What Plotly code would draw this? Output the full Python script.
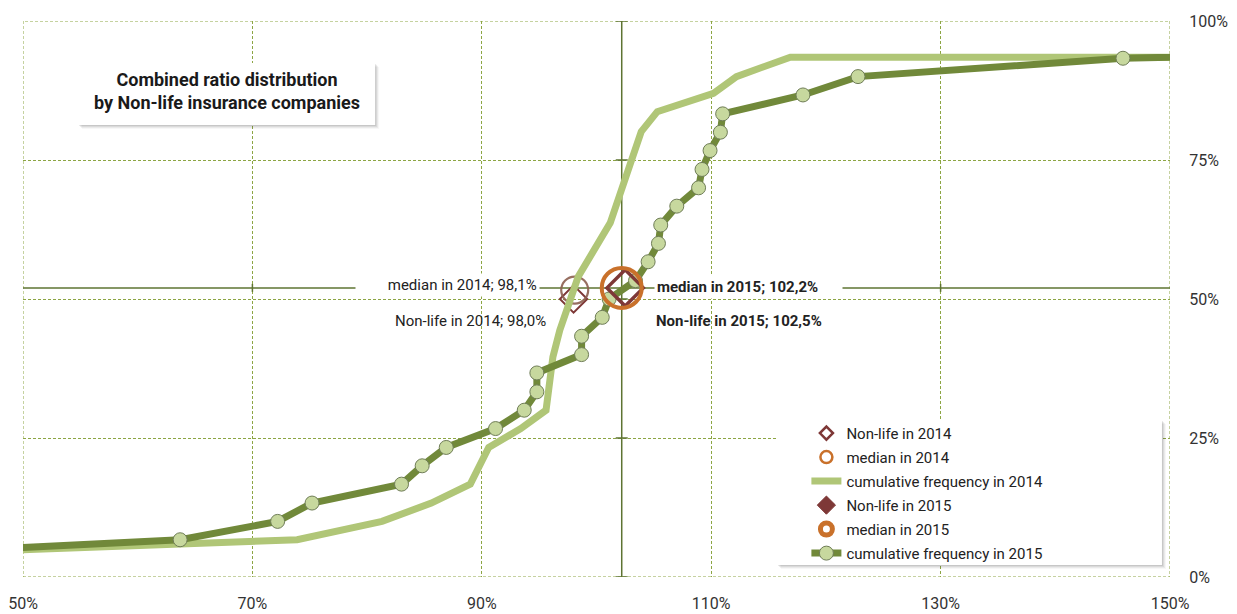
import plotly.graph_objects as go

# ---------------- data ----------------
x_ticks = [50, 70, 90, 110, 130, 150]
x_tick_labels = ["50%", "70%", "90%", "110%", "130%", "150%"]
y_ticks = [0, 25, 50, 75, 100]
y_tick_labels = ["0%", "25%", "50%", "75%", "100%"]

# cumulative frequency 2014 (combined ratio %, cumulative share %)
cum2014_x = [30, 73.9, 81.3, 85.6, 89.0, 90.6, 93.4, 95.6, 96.2, 96.8, 98.4,
             101.2, 103.9, 105.3, 110.2, 112.2, 116.9, 150]
cum2014_y = [3.4, 6.7, 10.0, 13.3, 16.7, 23.3, 26.7, 30.0, 39.6, 44.4, 54.0,
             63.7, 80.1, 83.7, 87.0, 90.0, 93.5, 93.5]

# cumulative frequency 2015
cum2015_x = [30, 63.7, 72.2, 75.2, 83.0, 84.8, 86.9, 91.2, 93.7, 94.8, 94.8,
             98.7, 98.7, 100.5, 101.1, 103.4, 104.5, 105.4, 105.6, 107.0, 108.9,
             109.2, 109.9, 110.8, 111.0, 118.0, 122.8, 145.9, 220]
cum2015_y = [3.3, 6.7, 10.0, 13.3, 16.7, 20.0, 23.3, 26.7, 30.0, 33.3, 36.7,
             40.0, 43.3, 46.7, 50.0, 53.3, 56.7, 60.0, 63.3, 66.7, 70.0,
             73.3, 76.7, 80.0, 83.3, 86.7, 90.0, 93.3, 96.7]

nonlife2014 = 98.0
nonlife2014_y = 50.0
median2014 = 98.1
median2014_y = 51.6
nonlife2015 = 102.5
nonlife2015_y = 52.0
median2015 = 102.2
median2015_y = 52.0

NB = "&nbsp;"
label_median2014 = NB * 8 + "median in 2014; 98,1%"
label_nonlife2014 = "Non-life in 2014; 98,0%"
label_median2015 = "<b>median in 2015; 102,2%</b>" + NB * 6
label_nonlife2015 = "<b>Non-life in 2015; 102,5%</b>"
title_text = "<b>Combined ratio distribution<br>by Non-life insurance companies</b>"

# ---------------- styles ----------------
FONT = "Roboto, Arial, sans-serif"
DARK_GREEN = "#71893A"
LIGHT_GREEN = "#B0C677"
MARKER_FILL = "#C7D89E"
GRID = "#8CA543"
GRID_DASH = "3px,2px"
CROSS = "#5E7432"
BROWN = "#7E3837"
ORANGE = "#C9712B"
MAUVE = "rgba(140,95,80,0.9)"
CLEAR = "rgba(0,0,0,0)"

fig = go.Figure()

# plotted marks (legend shown through proxies below)
fig.add_trace(go.Scatter(
    x=[nonlife2014], y=[nonlife2014_y], mode="markers", showlegend=False,
    marker=dict(symbol="diamond", size=21, color=CLEAR, line=dict(color=BROWN, width=2)),
))
fig.add_trace(go.Scatter(
    x=[median2014], y=[median2014_y], mode="markers", showlegend=False,
    marker=dict(symbol="circle", size=27, color=CLEAR, line=dict(color=MAUVE, width=2.2)),
))
fig.add_trace(go.Scatter(
    x=cum2014_x, y=cum2014_y, mode="lines", name="cumulative frequency in 2014",
    legendgroup="c", legendrank=3,
    line=dict(color=LIGHT_GREEN, width=7),
))
fig.add_trace(go.Scatter(
    x=cum2015_x, y=cum2015_y, mode="lines+markers", name="cumulative frequency in 2015",
    legendgroup="f", legendrank=6,
    line=dict(color=DARK_GREEN, width=7),
    marker=dict(symbol="circle", size=14, color=MARKER_FILL,
                line=dict(color="#6F7D57", width=1)),
))
fig.add_trace(go.Scatter(
    x=[nonlife2015], y=[nonlife2015_y], mode="markers", showlegend=False,
    marker=dict(symbol="diamond", size=28, color=CLEAR, line=dict(color=BROWN, width=3.5)),
))
fig.add_trace(go.Scatter(
    x=[median2015], y=[median2015_y], mode="markers", showlegend=False,
    marker=dict(symbol="circle", size=40, color=CLEAR, line=dict(color=ORANGE, width=4)),
))

# legend proxies for the single markers
fig.add_trace(go.Scatter(
    x=[None], y=[None], mode="markers", name="Non-life in 2014",
    legendgroup="a", legendrank=1,
    marker=dict(symbol="diamond", size=10, color="white", line=dict(color=BROWN, width=2.5)),
))
fig.add_trace(go.Scatter(
    x=[None], y=[None], mode="markers", name="median in 2014",
    legendgroup="b", legendrank=2,
    marker=dict(symbol="circle", size=12, color="white", line=dict(color=ORANGE, width=2.5)),
))
fig.add_trace(go.Scatter(
    x=[None], y=[None], mode="markers", name="Non-life in 2015",
    legendgroup="d", legendrank=4,
    marker=dict(symbol="diamond", size=14, color=BROWN, line=dict(color=BROWN, width=1)),
))
fig.add_trace(go.Scatter(
    x=[None], y=[None], mode="markers", name="median in 2015",
    legendgroup="e", legendrank=5,
    marker=dict(symbol="circle", size=12, color="white", line=dict(color=ORANGE, width=5)),
))

shapes = []
# dotted plot-area border
shapes.append(dict(type="rect", xref="x", yref="y", x0=x_ticks[0], x1=x_ticks[-1],
                   y0=y_ticks[0], y1=y_ticks[-1], layer="between",
                   line=dict(color=GRID, width=1, dash=GRID_DASH)))

# crosshair through the 2015 median
shapes.append(dict(type="line", xref="x", yref="y", x0=median2015, x1=median2015,
                   y0=y_ticks[0], y1=y_ticks[-1], layer="between",
                   line=dict(color=CROSS, width=1.5)))
shapes.append(dict(type="line", xref="x", yref="y", x0=x_ticks[0], x1=x_ticks[-1],
                   y0=median2015_y, y1=median2015_y, layer="between",
                   line=dict(color=CROSS, width=1.5)))
for yv in y_ticks:
    shapes.append(dict(type="line", xref="x", yref="y", xsizemode="pixel",
                       xanchor=median2015, x0=-6, x1=6, y0=yv, y1=yv,
                       layer="between", line=dict(color=CROSS, width=1.5)))
for xv in x_ticks[1:-1]:
    shapes.append(dict(type="line", xref="x", yref="y", ysizemode="pixel",
                       yanchor=median2015_y, y0=-4, y1=4, x0=xv, x1=xv,
                       layer="between", line=dict(color=CROSS, width=1.5)))

PW, PH = 1147.0, 556.0


def shadow_box(box):
    out = []
    for off, op in [(4, 0.04), (3, 0.06), (2, 0.08), (1, 0.10)]:
        out.append(dict(type="rect", xref="paper", yref="paper",
                        x0=box["x0"] + off / PW, x1=box["x1"] + off / PW,
                        y0=box["y0"] - off / PH, y1=box["y1"] - off / PH,
                        layer="above", line=dict(width=0),
                        fillcolor="rgba(40,40,40,%.2f)" % op))
    out.append(dict(type="rect", xref="paper", yref="paper", layer="above",
                    line=dict(width=0), fillcolor="white", **box))
    return out


title_box = dict(x0=0.048, x1=0.307, y0=0.813, y1=0.9245)
legend_box = dict(x0=0.6574, x1=0.993, y0=0.0216, y1=0.2824)
shapes += shadow_box(title_box)
shapes += shadow_box(legend_box)

annotations = [
    dict(x=(title_box["x0"] + title_box["x1"]) / 2,
         y=(title_box["y0"] + title_box["y1"]) / 2 + 0.005,
         xref="paper", yref="paper", xanchor="center", yanchor="middle",
         text=title_text, showarrow=False,
         font=dict(family=FONT, size=18, color="#1a1a1a"), align="center"),
    dict(x=95.1, y=52.6, xref="x", yref="y", text=label_median2014, showarrow=False,
         xanchor="right", yanchor="middle", bgcolor="white", borderpad=2,
         font=dict(family=FONT, size=15, color="#222")),
    dict(x=95.8, y=46.0, xref="x", yref="y", text=label_nonlife2014, showarrow=False,
         xanchor="right", yanchor="middle", font=dict(family=FONT, size=15, color="#222")),
    dict(x=105.0, y=52.2, xref="x", yref="y", text=label_median2015, showarrow=False,
         xanchor="left", yanchor="middle", bgcolor="white", borderpad=2,
         font=dict(family=FONT, size=15, color="#222")),
    dict(x=105.0, y=46.0, xref="x", yref="y", text=label_nonlife2015, showarrow=False,
         xanchor="left", yanchor="middle", font=dict(family=FONT, size=15, color="#222")),
]

fig.update_layout(
    width=1237, height=614,
    margin=dict(l=23, r=67, t=21, b=37),
    paper_bgcolor="white", plot_bgcolor="white",
    font=dict(family=FONT, size=13, color="#333"),
    showlegend=True,
    legend=dict(x=0.683, y=0.288, xanchor="left", yanchor="top",
                bgcolor=CLEAR, tracegroupgap=1.5,
                traceorder="grouped",
                font=dict(family=FONT, size=15, color="#222")),
    shapes=shapes,
    annotations=annotations,
    xaxis=dict(range=[50, 150], tickvals=x_ticks, ticktext=x_tick_labels,
               showgrid=True, gridcolor=GRID, griddash=GRID_DASH, gridwidth=1,
               zeroline=False, showline=False, ticks="outside", ticklen=12,
               tickcolor=CLEAR, tickfont=dict(size=16, color="#333"),
               automargin=False, fixedrange=True),
    yaxis=dict(range=[0, 100], tickvals=y_ticks, ticktext=y_tick_labels, side="right",
               showgrid=True, gridcolor=GRID, griddash=GRID_DASH, gridwidth=1,
               zeroline=False, showline=False, ticks="outside", ticklen=15,
               tickcolor=CLEAR, tickfont=dict(size=16, color="#333"),
               automargin=False, fixedrange=True),
)

fig.write_html("out.html", config={"displayModeBar": False},
               post_script="document.body.style.margin='0px';")
